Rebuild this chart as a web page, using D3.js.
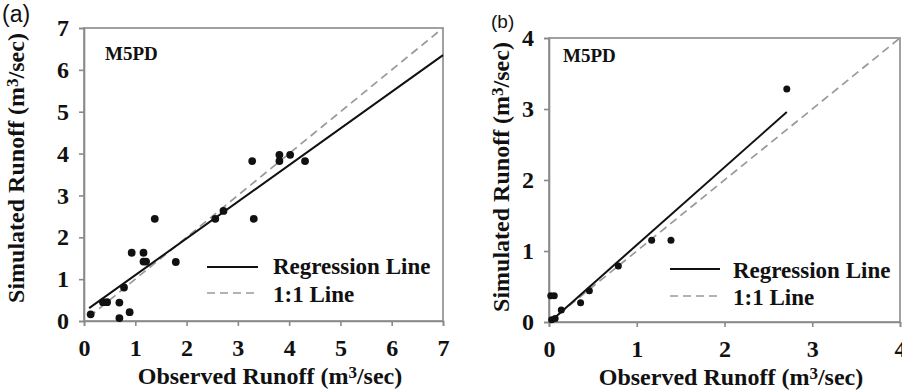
<!DOCTYPE html>
<html>
<head>
<meta charset="utf-8">
<script src="https://cdn.jsdelivr.net/npm/d3@7"></script>
<style>
  html, body { margin: 0; padding: 0; background: #fff; }
  svg { display: block; }
  text { font-family: "Liberation Serif", "Times New Roman", serif; font-weight: bold; fill: #111; }
  text.panel-tag { font-family: "Liberation Sans", Arial, sans-serif; font-weight: normal; }
</style>
</head>
<body>
<svg id="chart" width="902" height="390"></svg>
<script>
// Panel (a): observed vs simulated runoff
const obsA = [0.13, 0.37, 0.45, 0.69, 0.69, 0.78, 0.89, 0.93, 1.16, 1.16, 1.21, 1.38, 1.79, 2.56, 2.72, 3.28, 3.31, 3.81, 3.81, 4.02, 4.31];
const simA = [0.16, 0.45, 0.45, 0.44, 0.07, 0.80, 0.21, 1.63, 1.63, 1.42, 1.42, 2.44, 1.41, 2.44, 2.63, 3.82, 2.44, 3.97, 3.82, 3.97, 3.82];
// Panel (b): observed vs simulated runoff
const obsB = [0.02, 0.06, 0.03, 0.07, 0.14, 0.36, 0.46, 0.79, 1.17, 1.39, 2.71];
const simB = [0.37, 0.37, 0.03, 0.05, 0.17, 0.27, 0.44, 0.79, 1.15, 1.15, 3.28];

// Fitted regression lines: slope, intercept and x extent
const regA = { slope: 0.876, intercept: 0.22, x0: 0.10, x1: 7 };
const regB = { slope: 1.095, intercept: -0.01, x0: 0.01, x1: 2.71 };

const ticksA = [0, 1, 2, 3, 4, 5, 6, 7];
const ticksB = [0, 1, 2, 3, 4];
const legendLabels = ["Regression Line", "1:1 Line"];
const modelName = "M5PD";
const xTitle = ["Observed Runoff (m", "3", "/sec)"];
const yTitle = ["Simulated Runoff (m", "3", "/sec)"];

const svg = d3.select("#chart");

const panels = [
  {
    tag: "(a)", tagPos: [2, 22], tagSize: 23,
    obs: obsA, sim: simA, reg: regA, ticks: ticksA, max: 7, diagStart: 0.1,
    x: [84, 443], y: [321, 28],
    dotR: 3.9,
    modelPos: [105, 60],
    legend: { x0: 207, x1: 258, tx: 273, y: [267, 293], base: [274, 302] },
    xTitle: [270, 384], yTitle: [24, 168]
  },
  {
    tag: "(b)", tagPos: [491, 28], tagSize: 19,
    obs: obsB, sim: simB, reg: regB, ticks: ticksB, max: 4, diagStart: 0,
    x: [549, 900], y: [322, 38],
    dotR: 3.5,
    modelPos: [563, 62],
    legend: { x0: 670, x1: 720, tx: 733, y: [269, 296], base: [278, 305] },
    xTitle: [731, 385], yTitle: [509, 177]
  }
];

const frameColor = "#8a8a8a";
const dashColor = "#999";

panels.forEach(p => {
  const x = d3.scaleLinear().domain([0, p.max]).range(p.x);
  const y = d3.scaleLinear().domain([0, p.max]).range(p.y);
  const g = svg.append("g");

  // plot frame
  g.append("rect")
    .attr("x", p.x[0]).attr("y", p.y[1])
    .attr("width", p.x[1] - p.x[0]).attr("height", p.y[0] - p.y[1])
    .attr("fill", "none").attr("stroke", frameColor).attr("stroke-width", 1.6);

  // axes
  const xAxis = g.append("g")
    .attr("transform", `translate(0,${p.y[0]})`)
    .call(d3.axisBottom(x).tickValues(p.ticks).tickFormat(d3.format("d")).tickSize(5).tickPadding(13));
  const yAxis = g.append("g")
    .attr("transform", `translate(${p.x[0]},0)`)
    .call(d3.axisLeft(y).tickValues(p.ticks).tickFormat(d3.format("d")).tickSize(5).tickPadding(10));
  [xAxis, yAxis].forEach(a => {
    a.attr("font-family", null).attr("font-size", null);
    a.select(".domain").attr("stroke", frameColor).attr("stroke-width", 1.6);
    a.selectAll(".tick line").attr("stroke", frameColor).attr("stroke-width", 1.6);
    a.selectAll(".tick text").style("font-size", "24px").style("fill", "#111");
  });

  // 1:1 line
  g.append("line")
    .attr("x1", x(p.diagStart)).attr("y1", y(p.diagStart))
    .attr("x2", x(p.max)).attr("y2", y(p.max))
    .attr("stroke", dashColor).attr("stroke-width", 1.7).attr("stroke-dasharray", "8,5");

  // regression line
  g.append("line")
    .attr("x1", x(p.reg.x0)).attr("y1", y(p.reg.slope * p.reg.x0 + p.reg.intercept))
    .attr("x2", x(p.reg.x1)).attr("y2", y(p.reg.slope * p.reg.x1 + p.reg.intercept))
    .attr("stroke", "#111").attr("stroke-width", 2);

  // observations
  g.selectAll("circle.pt")
    .data(p.obs.map((o, i) => [o, p.sim[i]]))
    .join("circle")
    .attr("class", "pt")
    .attr("cx", d => x(d[0])).attr("cy", d => y(d[1]))
    .attr("r", p.dotR).attr("fill", "#111");

  // model name
  g.append("text").attr("x", p.modelPos[0]).attr("y", p.modelPos[1])
    .style("font-size", "19px").text(modelName);

  // legend
  const lg = p.legend;
  g.append("line").attr("x1", lg.x0).attr("x2", lg.x1).attr("y1", lg.y[0]).attr("y2", lg.y[0])
    .attr("stroke", "#111").attr("stroke-width", 2);
  g.append("line").attr("x1", lg.x0).attr("x2", lg.x1).attr("y1", lg.y[1]).attr("y2", lg.y[1])
    .attr("stroke", dashColor).attr("stroke-width", 1.7).attr("stroke-dasharray", "8,5");
  legendLabels.forEach((lab, i) => {
    g.append("text").attr("x", lg.tx).attr("y", lg.base[i]).style("font-size", "23px").text(lab);
  });

  // axis titles
  const xt = g.append("text").attr("x", p.xTitle[0]).attr("y", p.xTitle[1])
    .attr("text-anchor", "middle").style("font-size", "24px");
  xt.append("tspan").text(xTitle[0]);
  xt.append("tspan").style("font-size", "17px").attr("dy", -6).text(xTitle[1]);
  xt.append("tspan").attr("dy", 6).text(xTitle[2]);

  const yt = g.append("text")
    .attr("transform", `translate(${p.yTitle[0]},${p.yTitle[1]}) rotate(-90)`)
    .attr("text-anchor", "middle").style("font-size", "24px");
  yt.append("tspan").text(yTitle[0]);
  yt.append("tspan").style("font-size", "17px").attr("dy", -6).text(yTitle[1]);
  yt.append("tspan").attr("dy", 6).text(yTitle[2]);

  // panel tag
  g.append("text").attr("class", "panel-tag").attr("x", p.tagPos[0]).attr("y", p.tagPos[1])
    .style("font-size", p.tagSize + "px").text(p.tag);
});
</script>
</body>
</html>
